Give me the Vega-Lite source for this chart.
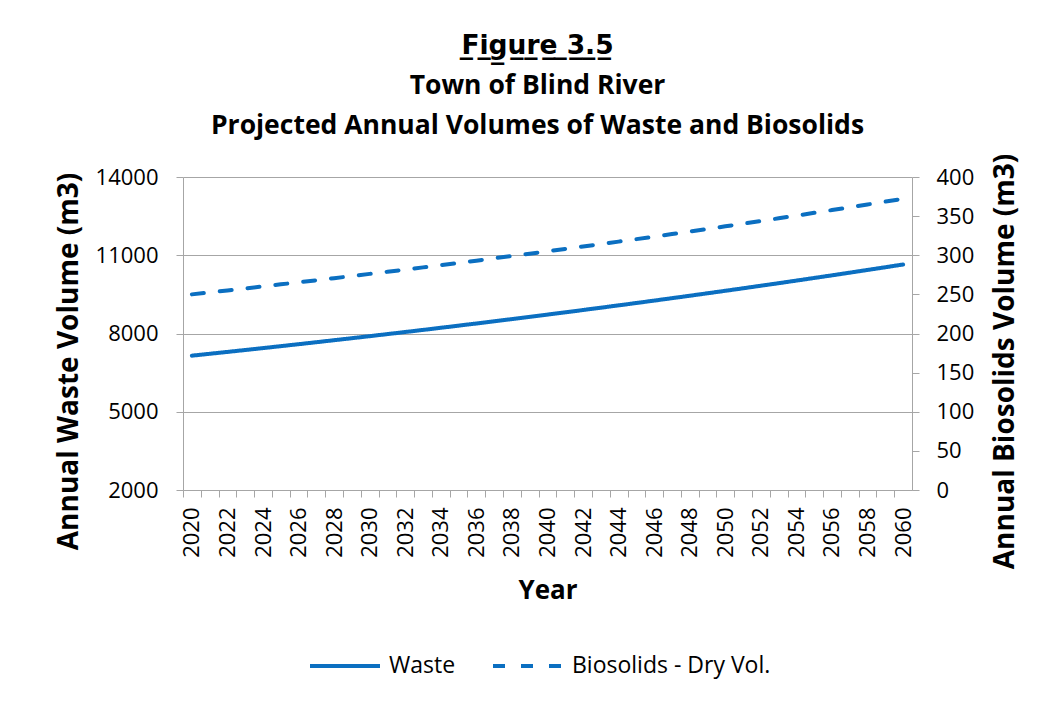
{
  "$schema": "https://vega.github.io/schema/vega-lite/v6.json",
  "width": 729,
  "height": 313,
  "autosize": "none",
  "padding": {"left": 183, "top": 177, "right": 134, "bottom": 213},
  "background": "white",
  "config": {
    "font": "Open Sans",
    "view": {"stroke": null},
    "axis": {"labelColor": "#000000", "titleColor": "#000000", "labelFont": "Open Sans", "titleFont": "Open Sans"}
  },
  "title": {
    "text": ["F̲i̲g̲u̲r̲e̲ ̲3̲.̲5̲", "Town of Blind River", "Projected Annual Volumes of Waste and Biosolids"],
    "fontSize": 26.5,
    "fontWeight": "bold",
    "font": "Open Sans, DejaVu Sans",
    "color": "#000000",
    "lineHeight": 40,
    "anchor": "middle",
    "dx": -10,
    "offset": 14
  },
  "data": {
    "values": [
      {"year": 2020, "series": "Waste", "value": 7150},
      {"year": 2021, "series": "Waste", "value": 7222},
      {"year": 2022, "series": "Waste", "value": 7294},
      {"year": 2023, "series": "Waste", "value": 7367},
      {"year": 2024, "series": "Waste", "value": 7440},
      {"year": 2025, "series": "Waste", "value": 7515},
      {"year": 2026, "series": "Waste", "value": 7590},
      {"year": 2027, "series": "Waste", "value": 7666},
      {"year": 2028, "series": "Waste", "value": 7743},
      {"year": 2029, "series": "Waste", "value": 7820},
      {"year": 2030, "series": "Waste", "value": 7898},
      {"year": 2031, "series": "Waste", "value": 7977},
      {"year": 2032, "series": "Waste", "value": 8057},
      {"year": 2033, "series": "Waste", "value": 8137},
      {"year": 2034, "series": "Waste", "value": 8219},
      {"year": 2035, "series": "Waste", "value": 8301},
      {"year": 2036, "series": "Waste", "value": 8384},
      {"year": 2037, "series": "Waste", "value": 8468},
      {"year": 2038, "series": "Waste", "value": 8552},
      {"year": 2039, "series": "Waste", "value": 8638},
      {"year": 2040, "series": "Waste", "value": 8724},
      {"year": 2041, "series": "Waste", "value": 8812},
      {"year": 2042, "series": "Waste", "value": 8900},
      {"year": 2043, "series": "Waste", "value": 8989},
      {"year": 2044, "series": "Waste", "value": 9079},
      {"year": 2045, "series": "Waste", "value": 9169},
      {"year": 2046, "series": "Waste", "value": 9261},
      {"year": 2047, "series": "Waste", "value": 9354},
      {"year": 2048, "series": "Waste", "value": 9447},
      {"year": 2049, "series": "Waste", "value": 9542},
      {"year": 2050, "series": "Waste", "value": 9637},
      {"year": 2051, "series": "Waste", "value": 9733},
      {"year": 2052, "series": "Waste", "value": 9831},
      {"year": 2053, "series": "Waste", "value": 9929},
      {"year": 2054, "series": "Waste", "value": 10028},
      {"year": 2055, "series": "Waste", "value": 10129},
      {"year": 2056, "series": "Waste", "value": 10230},
      {"year": 2057, "series": "Waste", "value": 10332},
      {"year": 2058, "series": "Waste", "value": 10436},
      {"year": 2059, "series": "Waste", "value": 10540},
      {"year": 2060, "series": "Waste", "value": 10646},
      {"year": 2020, "series": "Biosolids - Dry Vol.", "value": 250.0},
      {"year": 2021, "series": "Biosolids - Dry Vol.", "value": 252.5},
      {"year": 2022, "series": "Biosolids - Dry Vol.", "value": 255.0},
      {"year": 2023, "series": "Biosolids - Dry Vol.", "value": 257.6},
      {"year": 2024, "series": "Biosolids - Dry Vol.", "value": 260.2},
      {"year": 2025, "series": "Biosolids - Dry Vol.", "value": 262.8},
      {"year": 2026, "series": "Biosolids - Dry Vol.", "value": 265.4},
      {"year": 2027, "series": "Biosolids - Dry Vol.", "value": 268.0},
      {"year": 2028, "series": "Biosolids - Dry Vol.", "value": 270.7},
      {"year": 2029, "series": "Biosolids - Dry Vol.", "value": 273.4},
      {"year": 2030, "series": "Biosolids - Dry Vol.", "value": 276.2},
      {"year": 2031, "series": "Biosolids - Dry Vol.", "value": 278.9},
      {"year": 2032, "series": "Biosolids - Dry Vol.", "value": 281.7},
      {"year": 2033, "series": "Biosolids - Dry Vol.", "value": 284.5},
      {"year": 2034, "series": "Biosolids - Dry Vol.", "value": 287.4},
      {"year": 2035, "series": "Biosolids - Dry Vol.", "value": 290.2},
      {"year": 2036, "series": "Biosolids - Dry Vol.", "value": 293.1},
      {"year": 2037, "series": "Biosolids - Dry Vol.", "value": 296.1},
      {"year": 2038, "series": "Biosolids - Dry Vol.", "value": 299.0},
      {"year": 2039, "series": "Biosolids - Dry Vol.", "value": 302.0},
      {"year": 2040, "series": "Biosolids - Dry Vol.", "value": 305.0},
      {"year": 2041, "series": "Biosolids - Dry Vol.", "value": 308.1},
      {"year": 2042, "series": "Biosolids - Dry Vol.", "value": 311.2},
      {"year": 2043, "series": "Biosolids - Dry Vol.", "value": 314.3},
      {"year": 2044, "series": "Biosolids - Dry Vol.", "value": 317.4},
      {"year": 2045, "series": "Biosolids - Dry Vol.", "value": 320.6},
      {"year": 2046, "series": "Biosolids - Dry Vol.", "value": 323.8},
      {"year": 2047, "series": "Biosolids - Dry Vol.", "value": 327.1},
      {"year": 2048, "series": "Biosolids - Dry Vol.", "value": 330.3},
      {"year": 2049, "series": "Biosolids - Dry Vol.", "value": 333.6},
      {"year": 2050, "series": "Biosolids - Dry Vol.", "value": 337.0},
      {"year": 2051, "series": "Biosolids - Dry Vol.", "value": 340.3},
      {"year": 2052, "series": "Biosolids - Dry Vol.", "value": 343.7},
      {"year": 2053, "series": "Biosolids - Dry Vol.", "value": 347.2},
      {"year": 2054, "series": "Biosolids - Dry Vol.", "value": 350.6},
      {"year": 2055, "series": "Biosolids - Dry Vol.", "value": 354.2},
      {"year": 2056, "series": "Biosolids - Dry Vol.", "value": 357.7},
      {"year": 2057, "series": "Biosolids - Dry Vol.", "value": 361.3},
      {"year": 2058, "series": "Biosolids - Dry Vol.", "value": 364.9},
      {"year": 2059, "series": "Biosolids - Dry Vol.", "value": 368.5},
      {"year": 2060, "series": "Biosolids - Dry Vol.", "value": 372.2}
    ]
  },
  "encoding": {
    "x": {
      "field": "year",
      "type": "ordinal",
      "scale": {"type": "point", "padding": 0.5},
      "axis": {
        "title": "Year",
        "titleFontSize": 26,
        "titleFontWeight": "bold",
        "titlePadding": 20,
        "labelAngle": -90,
        "labelFontSize": 22,
        "labelOverlap": false,
        "labelExpr": "datum.value % 2 == 0 ? datum.label : ''",
        "labelPadding": 10,
        "tickOffset": -8.89,
        "labelOffset": 8.89,
        "tickSize": 7,
        "tickColor": "#A6A6A6",
        "domainColor": "#A6A6A6",
        "grid": false
      }
    },
    "strokeDash": {
      "field": "series",
      "type": "nominal",
      "scale": {"domain": ["Waste", "Biosolids - Dry Vol."], "range": [[1, 0], [12, 16]]},
      "legend": {
        "title": null,
        "orient": "none",
        "legendX": 125,
        "legendY": 452,
        "direction": "horizontal",
        "labelFontSize": 23,
        "labelColor": "#000000",
        "labelFont": "Open Sans",
        "labelLimit": 400,
        "symbolType": "stroke",
        "symbolSize": 4900,
        "symbolStrokeWidth": 4,
        "symbolStrokeColor": "#0B6FC1",
        "columnPadding": 29,
        "labelOffset": 7
      }
    }
  },
  "layer": [
    {
      "transform": [{"filter": "datum.series == 'Waste'"}],
      "mark": {"type": "line", "color": "#0B6FC1", "strokeWidth": 4, "strokeCap": "round"},
      "encoding": {
        "y": {
          "field": "value",
          "type": "quantitative",
          "scale": {"domain": [2000, 14000], "nice": false, "zero": false},
          "axis": {
            "title": "Annual Waste Volume (m3)",
            "titleFontSize": 28,
            "titleFontWeight": "bold",
            "titlePadding": 12,
            "titleY": 184,
            "values": [2000, 5000, 8000, 11000, 14000],
            "format": "d",
            "labelFontSize": 22,
            "labelPadding": 18,
            "tickSize": 7,
            "tickColor": "#A6A6A6",
            "domainColor": "#A6A6A6",
            "grid": true,
            "gridColor": "#A6A6A6"
          }
        }
      }
    },
    {
      "transform": [{"filter": "datum.series == 'Biosolids - Dry Vol.'"}],
      "mark": {"type": "line", "color": "#0B6FC1", "strokeWidth": 4, "strokeCap": "round"},
      "encoding": {
        "y": {
          "field": "value",
          "type": "quantitative",
          "scale": {"domain": [0, 400], "nice": false},
          "axis": {
            "orient": "right",
            "title": "Annual Biosolids Volume (m3)",
            "titleFontSize": 28,
            "titleFontWeight": "bold",
            "titleAngle": 270,
            "titleBaseline": "top",
            "titlePadding": 18,
            "titleY": 184,
            "values": [0, 50, 100, 150, 200, 250, 300, 350, 400],
            "labelFontSize": 22,
            "labelPadding": 17,
            "tickSize": 7,
            "tickColor": "#A6A6A6",
            "domainColor": "#A6A6A6",
            "grid": false
          }
        }
      }
    }
  ],
  "resolve": {"scale": {"y": "independent"}}
}
